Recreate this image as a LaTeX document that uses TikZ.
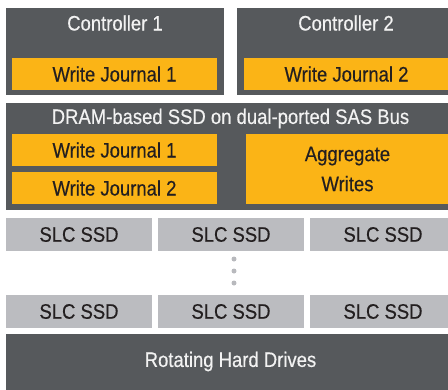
\documentclass[tikz,border=0pt]{standalone}
\usepackage{fontspec}
\setmainfont[FakeStretch=0.88, FakeBold=0.4]{Liberation Sans}
\definecolor{slate}{HTML}{56595C}
\definecolor{amber}{HTML}{FBB416}
\definecolor{silver}{HTML}{BBBCC0}
\definecolor{ink}{HTML}{231F20}
\definecolor{paper}{HTML}{F2F2F2}
\definecolor{dotgray}{HTML}{B8B9BD}
\tikzset{
  panel/.style={fill=slate, draw=none, inner sep=0pt, rectangle},
  journal/.style={fill=amber, draw=none, inner sep=0pt, rectangle, text=ink, font=\lbl, align=center},
  drive/.style={fill=silver, draw=none, inner sep=0pt, rectangle, text=ink, font=\lbl,
                minimum width=146pt, minimum height=33pt},
  title/.style={text=paper, font=\lbl, inner sep=0pt, anchor=center},
  dot/.style={circle, fill=dotgray, draw=none, inner sep=0pt, minimum size=5pt}
}
\newcommand{\lbl}{\fontsize{21}{30}\selectfont}
\begin{document}
\begin{tikzpicture}[x=1pt, y=-1pt]
\useasboundingbox (0,0) rectangle (448,389);
\clip (0,0) rectangle (448,389);

% controllers
\node[panel, minimum width=218pt, minimum height=87pt] (c1) at (115,51.5) {};
\node[panel, minimum width=218pt, minimum height=87pt] (c2) at (346,51.5) {};
\node[title] (c1t) at (115,23) {Controller 1};
\node[title] (c2t) at (346,23) {Controller 2};
\node[journal, minimum width=205pt, minimum height=32pt] (c1j) at (114.5,74) {Write Journal 1};
\node[journal, minimum width=205pt, minimum height=32pt] (c2j) at (346.5,74) {Write Journal 2};

% DRAM-based SSD
\node[panel, minimum width=449pt, minimum height=107pt] (dram) at (230.5,156.5) {};
\node[title] (dramt) at (230.5,118.5) {DRAM-based SSD on dual-ported SAS Bus};
\node[journal, minimum width=205pt, minimum height=32pt] (dj1) at (114.5,150) {Write Journal 1};
\node[journal, minimum width=205pt, minimum height=32pt] (dj2) at (114.5,188) {Write Journal 2};
\node[journal, minimum width=203pt, minimum height=70pt] (agg) at (347.5,169) {Aggregate\\Writes};

% SLC SSD rows
\node[drive] (s11) at (79,234.5) {SLC SSD};
\node[drive] (s12) at (231,234.5) {SLC SSD};
\node[drive] (s13) at (383,234.5) {SLC SSD};
\node[dot] (d1) at (234,259) {};
\node[dot] (d2) at (234,271) {};
\node[dot] (d3) at (234,283) {};
\node[drive] (s21) at (79,311.5) {SLC SSD};
\node[drive] (s22) at (231,311.5) {SLC SSD};
\node[drive] (s23) at (383,311.5) {SLC SSD};

% rotating hard drives
\node[panel, minimum width=449pt, minimum height=58pt] (hdd) at (230.5,363) {};
\node[title] (hddt) at (230.5,361.5) {Rotating Hard Drives};
\end{tikzpicture}
\end{document}
